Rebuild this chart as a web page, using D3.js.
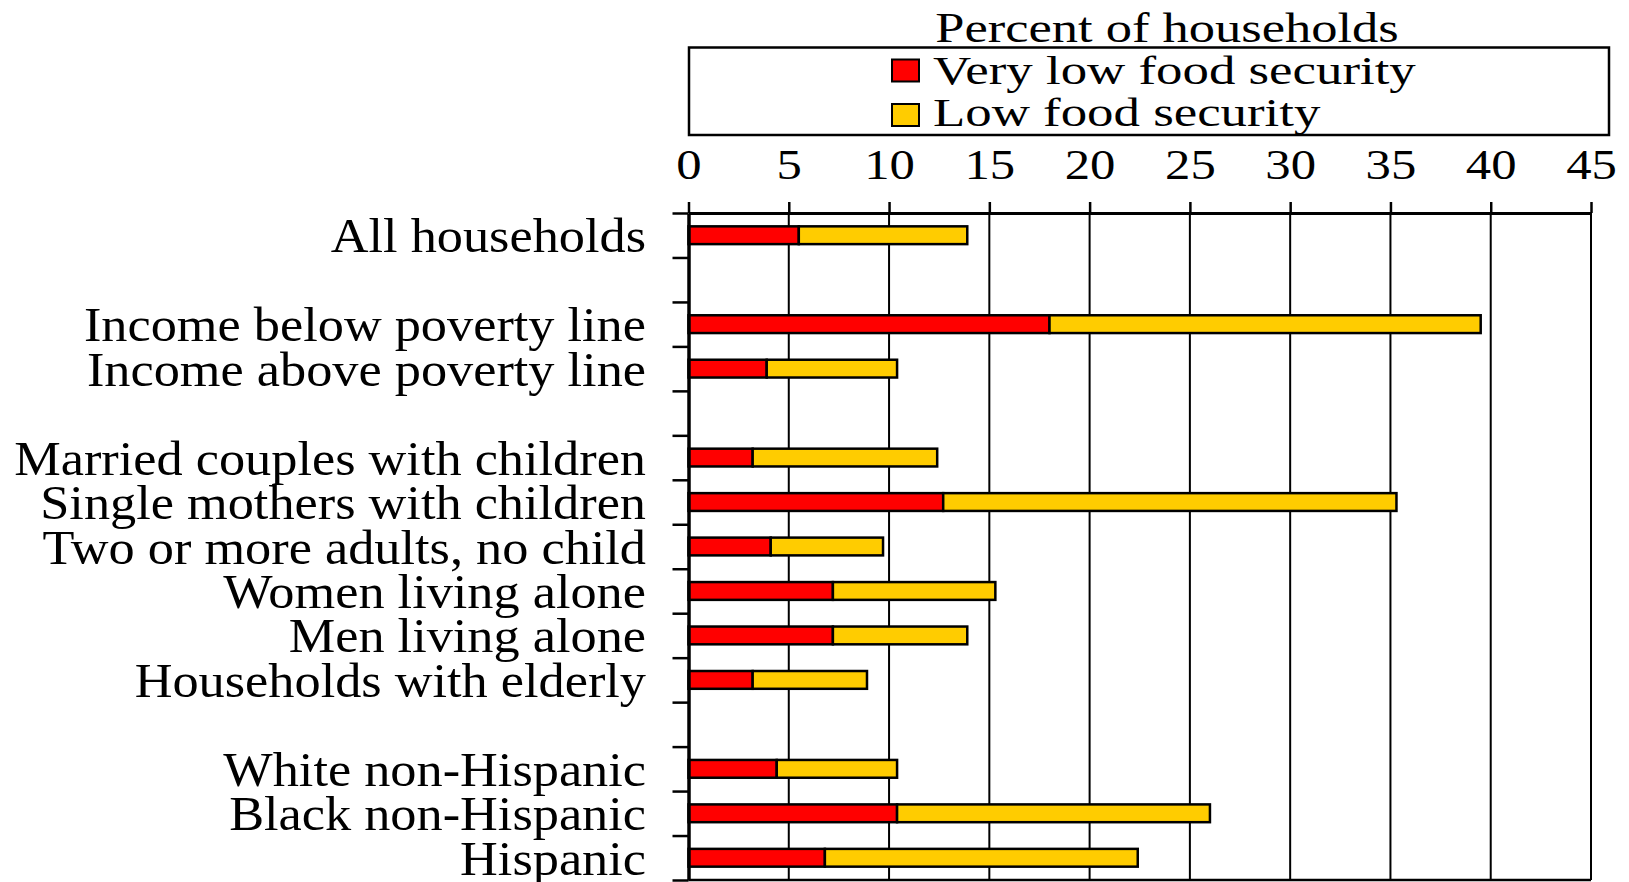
<!DOCTYPE html>
<html>
<head>
<meta charset="utf-8">
<script src="https://cdn.jsdelivr.net/npm/d3@7"></script>
<style>
  html, body { margin: 0; padding: 0; background: #fff; }
  svg { display: block; }
  text { font-family: "Liberation Serif", "Times New Roman", serif; fill: #000; }
</style>
</head>
<body>
<svg id="chart" width="1629" height="882"></svg>
<script>
// ---- Data ----
const categories = [
  "All households", "",
  "Income below poverty line", "Income above poverty line", "",
  "Married couples with children", "Single mothers with children",
  "Two or more adults, no child", "Women living alone", "Men living alone",
  "Households with elderly", "",
  "White non-Hispanic", "Black non-Hispanic", "Hispanic"
];
const veryLow = [5.5, null, 18.0, 3.9, null, 3.2, 12.7, 4.1, 7.2, 7.2, 3.2, null, 4.4, 10.4, 6.8];
const low     = [8.4, null, 21.5, 6.5, null, 9.2, 22.6, 5.6, 8.1, 6.7, 5.7, null, 6.0, 15.6, 15.6];
const xTicks = [0, 5, 10, 15, 20, 25, 30, 35, 40, 45];
const seriesNames = ["Very low food security", "Low food security"];
const seriesColors = ["#FF0000", "#FFCC00"];
const axisTitle = "Percent of households";

// ---- Layout ----
const svg = d3.select("#chart");
const pLeft = 688.5, pRight = 1591, pTop = 213, pBottom = 880;

const x = d3.scaleLinear().domain([0, 45]).range([pLeft, pRight]);
const idx = d3.range(categories.length);
const y = d3.scaleBand().domain(idx).range([pTop, pBottom]).paddingInner(0.6).paddingOuter(0.3);
const yb = d3.scaleLinear().domain([0, categories.length]).range([pTop, pBottom]);

// gridlines
svg.append("g").selectAll("line").data(xTicks.slice(1)).join("line")
  .attr("x1", d => x(d)).attr("x2", d => x(d))
  .attr("y1", pTop).attr("y2", pBottom)
  .attr("stroke", "#000").attr("stroke-width", 2);

// bottom border
svg.append("line").attr("x1", pLeft).attr("x2", pRight).attr("y1", pBottom).attr("y2", pBottom)
  .attr("stroke", "#000").attr("stroke-width", 2.5);

// bars
const rows = idx.filter(i => veryLow[i] != null).map(i => ({i, v: veryLow[i], l: low[i]}));
const barG = svg.append("g");
barG.selectAll("rect.vl").data(rows).join("rect").attr("class", "vl")
  .attr("x", d => x(0)).attr("width", d => x(d.v) - x(0))
  .attr("y", d => y(d.i)).attr("height", y.bandwidth())
  .attr("fill", seriesColors[0]).attr("stroke", "#000").attr("stroke-width", 2.5);
barG.selectAll("rect.lo").data(rows).join("rect").attr("class", "lo")
  .attr("x", d => x(d.v)).attr("width", d => x(d.v + d.l) - x(d.v))
  .attr("y", d => y(d.i)).attr("height", y.bandwidth())
  .attr("fill", seriesColors[1]).attr("stroke", "#000").attr("stroke-width", 2.5);

// top axis
const xAxis = svg.append("g").attr("transform", `translate(0,${pTop})`)
  .call(d3.axisTop(x).tickValues(xTicks).tickSize(11).tickSizeOuter(0).tickPadding(23));
xAxis.select(".domain").attr("stroke-width", 3);
xAxis.selectAll(".tick line").attr("stroke-width", 2.5);
xAxis.selectAll(".tick text")
  .style("font-family", '"Liberation Serif", serif').style("font-size", "43px")
  .attr("transform", "scale(1.18,1)");

// left axis with boundary ticks
const yAxis = svg.append("g").attr("transform", `translate(${pLeft},0)`)
  .call(d3.axisLeft(yb).tickValues(d3.range(0, categories.length + 1)).tickSize(16).tickSizeOuter(0).tickFormat(""));
yAxis.select(".domain").attr("stroke-width", 3.5);
yAxis.selectAll(".tick line").attr("stroke-width", 2.5);

// category labels
svg.append("g").selectAll("g").data(idx.filter(i => categories[i] !== "")).join("g")
  .attr("transform", i => `translate(646,${y(i) + y.bandwidth() / 2 + 17}) scale(1.09,1)`)
  .append("text").attr("text-anchor", "end").style("font-size", "48px")
  .text(i => categories[i]);

// axis title
svg.append("g").attr("transform", "translate(1167,41.5) scale(1.25,1)")
  .append("text").attr("text-anchor", "middle").style("font-size", "42px").text(axisTitle);

// legend
const lg = svg.append("g");
lg.append("rect").attr("x", 689).attr("y", 47.5).attr("width", 920).attr("height", 87.5)
  .attr("fill", "none").attr("stroke", "#000").attr("stroke-width", 2.5);
const legY = [59.5, 104];
const legBase = [83.5, 125.5];
seriesNames.forEach((n, k) => {
  lg.append("rect").attr("x", 892).attr("y", legY[k]).attr("width", 27).attr("height", 22)
    .attr("fill", seriesColors[k]).attr("stroke", "#000").attr("stroke-width", 2);
  lg.append("g").attr("transform", `translate(933,${legBase[k]}) scale(1.355,1)`)
    .append("text").style("font-size", "39px").text(n);
});
</script>
</body>
</html>
